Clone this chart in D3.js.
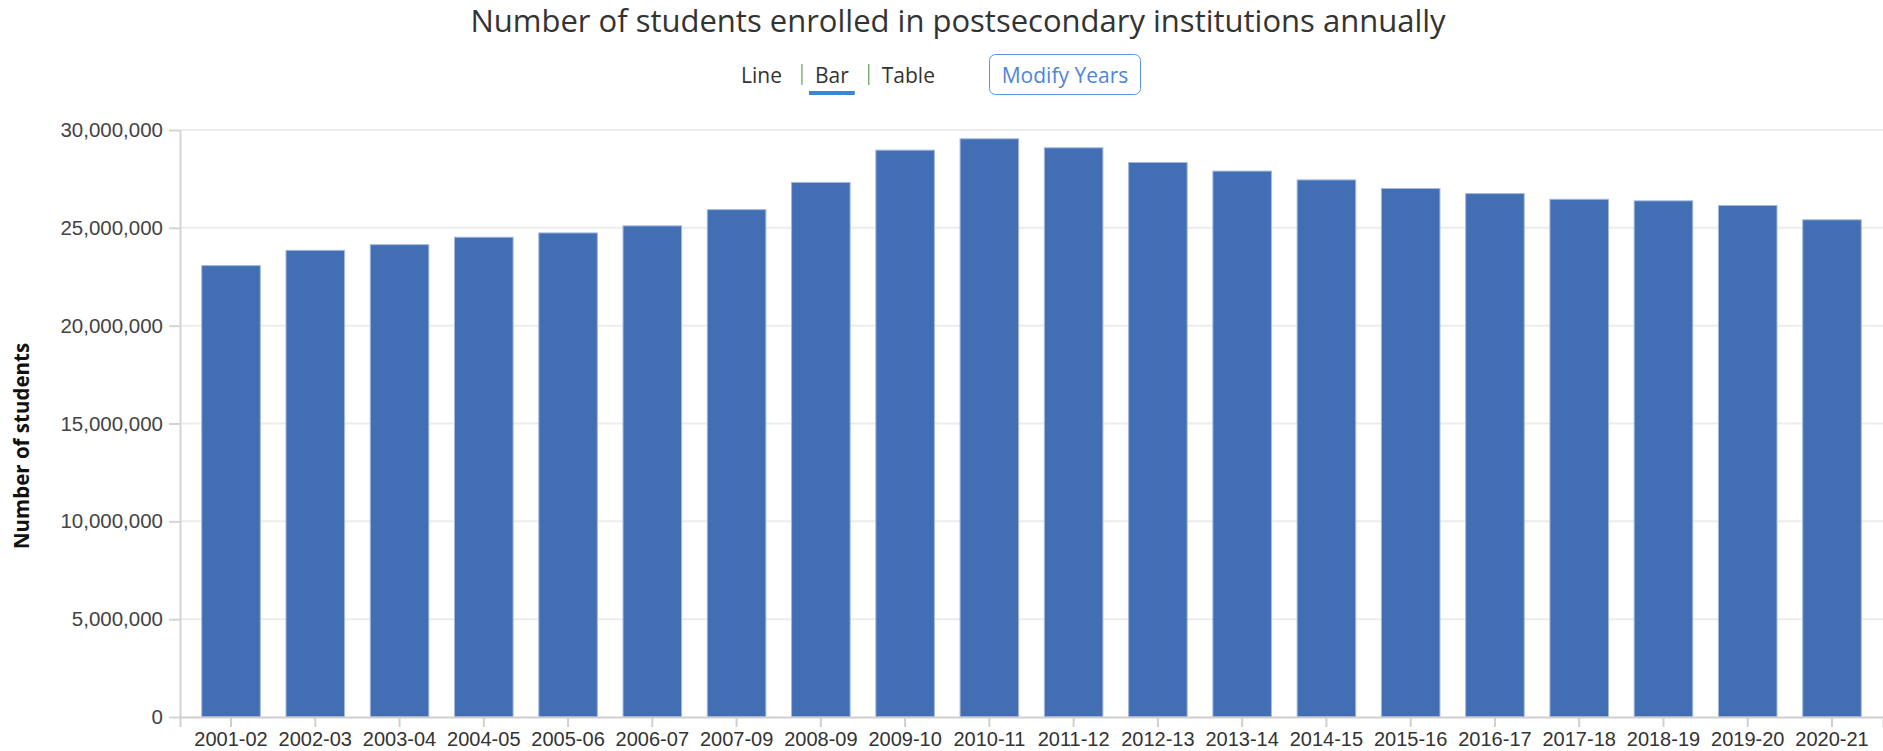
<!DOCTYPE html>
<html>
<head>
<meta charset="utf-8">
<script src="https://cdn.jsdelivr.net/npm/d3@7"></script>
<style>
  body { margin: 0; background: #fff; }
  svg { display: block; }
</style>
</head>
<body>
<div id="chart"></div>
<script>
// values
const years = [
  '2001-02', '2002-03', '2003-04', '2004-05', '2005-06', '2006-07', '2007-09',
  '2008-09', '2009-10', '2010-11', '2011-12', '2012-13', '2013-14', '2014-15',
  '2015-16', '2016-17', '2017-18', '2018-19', '2019-20', '2020-21',
];
const students = [
  23070000, 23850000, 24140000, 24520000, 24740000, 25100000, 25930000,
  27320000, 28970000, 29550000, 29090000, 28340000, 27900000, 27450000,
  27010000, 26750000, 26460000, 26380000, 26140000, 25410000,
];
const yTicks = [0, 5000000, 10000000, 15000000, 20000000, 25000000, 30000000];
const viewOptions = ['Line', 'Bar', 'Table'];
const activeView = 'Bar';

const title = 'Number of students enrolled in postsecondary institutions annually';
const yTitle = 'Number of students';

const width = 1883;
const height = 751;
const margin = { top: 130, right: 0, bottom: 34, left: 180 };

const data = years.map((year, i) => ({ year, value: students[i] }));

const svg = d3.select('#chart')
  .append('svg')
  .attr('width', width)
  .attr('height', height);

const x = d3.scaleBand()
  .domain(years)
  .range([margin.left, width - margin.right])
  .paddingInner(0.305)
  .paddingOuter(0.258);

const y = d3.scaleLinear()
  .domain([0, 30000000])
  .range([height - margin.bottom, margin.top]);

// title
svg.append('text')
  .attr('x', 958)
  .attr('y', 32)
  .attr('text-anchor', 'middle')
  .style('font-family', '"Open Sans", sans-serif')
  .style('font-size', '31px')
  .style('fill', '#333')
  .text(title);

// view toggles (Line | Bar | Table) and button
const toggles = svg.append('g').attr('class', 'toggles')
  .style('font-family', '"Open Sans", sans-serif')
  .style('font-size', '21px');

let cursor = 741;
viewOptions.forEach((name, i) => {
  if (i > 0) {
    cursor += 20;
    toggles.append('line')
      .attr('x1', cursor).attr('x2', cursor)
      .attr('y1', 64).attr('y2', 85)
      .style('stroke', '#5f9f55')
      .style('stroke-width', 1.2);
    cursor += 13;
  }
  const t = toggles.append('text')
    .attr('x', cursor)
    .attr('y', 83)
    .style('fill', '#333')
    .text(name);
  const w = t.node().getComputedTextLength();
  if (name === activeView) {
    toggles.append('rect')
      .attr('x', cursor - 6)
      .attr('y', 91)
      .attr('width', w + 12)
      .attr('height', 4)
      .style('fill', '#3b86d6');
  }
  cursor += w;
});

const btn = svg.append('g').attr('class', 'modify-years');
btn.append('rect')
  .attr('x', 989.5)
  .attr('y', 54.5)
  .attr('width', 151)
  .attr('height', 40)
  .attr('rx', 6)
  .style('fill', '#fff')
  .style('stroke', '#5b95dc')
  .style('stroke-width', 1);
btn.append('text')
  .attr('x', 1065)
  .attr('y', 83)
  .attr('text-anchor', 'middle')
  .style('font-family', '"Open Sans", sans-serif')
  .style('font-size', '21px')
  .style('fill', '#4f86d8')
  .text('Modify Years');

// gridlines
svg.append('g').attr('class', 'grid')
  .selectAll('line')
  .data(yTicks.filter((d) => d > 0))
  .join('line')
  .attr('x1', margin.left)
  .attr('x2', width - margin.right)
  .attr('y1', (d) => y(d))
  .attr('y2', (d) => y(d))
  .style('stroke', '#ececec')
  .style('stroke-width', 2);

// bars
svg.append('g').attr('class', 'bars')
  .selectAll('rect')
  .data(data)
  .join('rect')
  .attr('x', (d) => x(d.year))
  .attr('y', (d) => y(d.value))
  .attr('width', x.bandwidth())
  .attr('height', (d) => y(0) - y(d.value))
  .style('fill', '#426eb4')
  .style('stroke', '#a4b8de')
  .style('stroke-width', 1);

// y axis
const yAxis = svg.append('g')
  .attr('class', 'y-axis')
  .attr('transform', `translate(${margin.left},0)`)
  .call(
    d3.axisLeft(y)
      .tickValues(yTicks)
      .tickFormat(d3.format(','))
      .tickSize(11)
      .tickSizeOuter(0)
      .tickPadding(6)
  );
yAxis.select('.domain').style('stroke', '#d3d3d3').style('stroke-width', 2);
yAxis.selectAll('.tick line').style('stroke', '#d3d3d3').style('stroke-width', 2);
yAxis.selectAll('.tick text')
  .style('font-family', '"Liberation Sans", Arial, sans-serif')
  .style('font-size', '20.5px')
  .style('fill', '#444');

// x axis
const xAxis = svg.append('g')
  .attr('class', 'x-axis')
  .attr('transform', `translate(0,${y(0)})`)
  .call(
    d3.axisBottom(x)
      .tickSize(10)
      .tickSizeOuter(10)
      .tickPadding(5)
  );
xAxis.select('.domain').style('stroke', '#cfcfcf').style('stroke-width', 2);
xAxis.selectAll('.tick line').style('stroke', '#cfcfcf').style('stroke-width', 2);
xAxis.selectAll('.tick text')
  .style('font-family', '"Liberation Sans", Arial, sans-serif')
  .style('font-size', '20px')
  .style('fill', '#333');

// y axis title
svg.append('text')
  .attr('transform', 'translate(29,446) rotate(-90)')
  .attr('text-anchor', 'middle')
  .style('font-family', '"Open Sans", sans-serif')
  .style('font-weight', 'bold')
  .style('font-size', '20.5px')
  .style('fill', '#111')
  .text(yTitle);
</script>
</body>
</html>
